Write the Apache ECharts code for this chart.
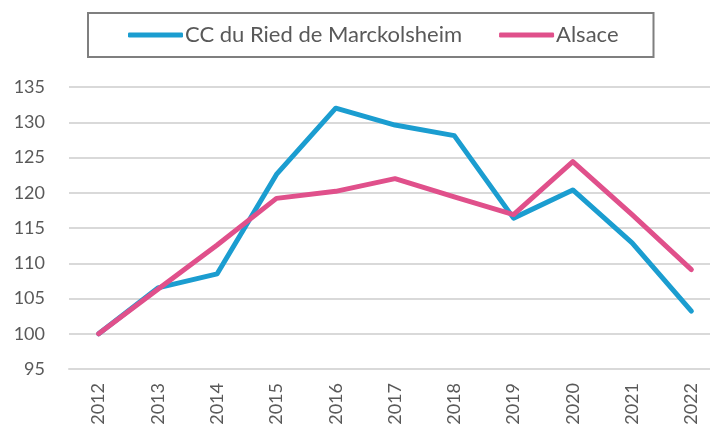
<!DOCTYPE html>
<html>
<head>
<meta charset="utf-8">
<script src="https://cdn.jsdelivr.net/npm/echarts@6/dist/echarts.min.js"></script>
<style>
  html, body { margin: 0; padding: 0; background: #fff; }
  #chart { width: 710px; height: 434px; }
</style>
</head>
<body>
<div id="chart"></div>
<script>
// données (indice base 100 en 2012)
const years = ["2012", "2013", "2014", "2015", "2016", "2017", "2018", "2019", "2020", "2021", "2022"];
const ccRied = [100, 106.5, 108.5, 122.6, 132.0, 129.6, 128.1, 116.4, 120.4, 112.9, 103.2];
const alsace = [100, 106.3, 112.6, 119.2, 120.2, 122.0, 119.4, 116.9, 124.4, 116.9, 109.1];
const seriesNames = ["CC du Ried de Marckolsheim", "Alsace"];

let myChart = echarts.init(document.getElementById("chart"));

let option = {
  animation: false,
  legend: {
    left: 88,
    top: 13,
    padding: [11, 35, 11, 40],
    borderColor: "#7f7f7f",
    borderWidth: 2,
    itemGap: 37,
    itemWidth: 55,
    itemHeight: 5,
    icon: "roundRect",
    textStyle: {
      fontFamily: "Lato",
      fontSize: 22,
      color: "#595959",
      padding: [0, 0, 0, -3]
    },
    data: seriesNames
  },
  grid: {
    left: 69,
    width: 652,
    top: 87,
    bottom: 65,
    outerBoundsMode: "none"
  },
  xAxis: {
    type: "category",
    data: years,
    boundaryGap: true,
    axisTick: { show: false },
    axisLine: { lineStyle: { color: "#d9d9d9", width: 2 } },
    axisLabel: {
      rotate: 90,
      margin: 14,
      fontFamily: "Lato",
      fontSize: 18,
      color: "#595959"
    }
  },
  yAxis: {
    type: "value",
    min: 95,
    max: 135,
    interval: 5,
    axisLine: { show: false },
    axisTick: { show: false },
    splitLine: { lineStyle: { color: "#d9d9d9", width: 2 } },
    axisLabel: {
      margin: 24,
      fontFamily: "Lato",
      fontSize: 18,
      color: "#595959"
    }
  },
  series: [
    {
      name: seriesNames[0],
      type: "line",
      data: ccRied,
      symbol: "none",
      lineStyle: { color: "#1b9dd0", width: 5, cap: "round", join: "round" },
      itemStyle: { color: "#1b9dd0" }
    },
    {
      name: seriesNames[1],
      type: "line",
      data: alsace,
      symbol: "none",
      lineStyle: { color: "#e0508b", width: 5, cap: "round", join: "round" },
      itemStyle: { color: "#e0508b" }
    }
  ]
};

myChart.setOption(option);
</script>
</body>
</html>
